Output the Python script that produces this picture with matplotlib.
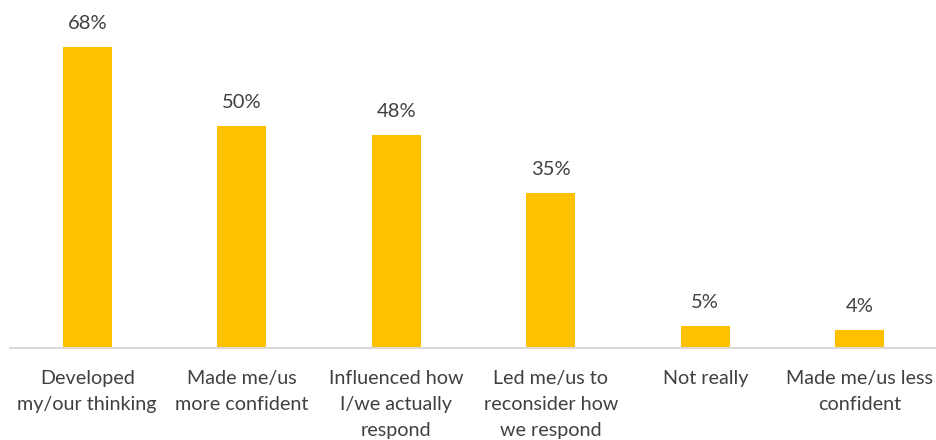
import matplotlib
matplotlib.use("Agg")
import matplotlib.pyplot as plt

categories = ["Developed\nmy/our thinking", "Made me/us\nmore confident",
              "Influenced how\nI/we actually\nrespond", "Led me/us to\nreconsider how\nwe respond",
              "Not really", "Made me/us less\nconfident"]
values = [68, 50, 48, 35, 5, 4]
value_labels = ["68%", "50%", "48%", "35%", "5%", "4%"]

plt.rcParams['font.family'] = ['Lato', 'DejaVu Sans']
fig = plt.figure(figsize=(9.37, 4.40), dpi=100)
ax = fig.add_axes([10/937, 92/440, 927/937, 348/440])
x = list(range(len(values)))
bars = ax.bar(x, values, width=0.315, color="#FFC000", zorder=2)
ax.set_xlim(-0.5, len(values) - 0.5)
ax.set_ylim(0, 348/4.43)
for xi, v, lab in zip(x, values, value_labels):
    ax.text(xi, v + 3.4, lab, ha="center", va="bottom", fontsize=14.5, color="#404040")
ax.set_yticks([])
ax.set_xticks(x)
ax.set_xticklabels(categories, fontsize=14.2, color="#404040", linespacing=1.65, va="top")
ax.tick_params(axis="x", length=0, pad=16)
for s in ["top", "right", "left"]:
    ax.spines[s].set_visible(False)
ax.spines["bottom"].set_color("#D9D9D9")
ax.spines["bottom"].set_linewidth(1.5)
fig.savefig("out.png", dpi=100)
